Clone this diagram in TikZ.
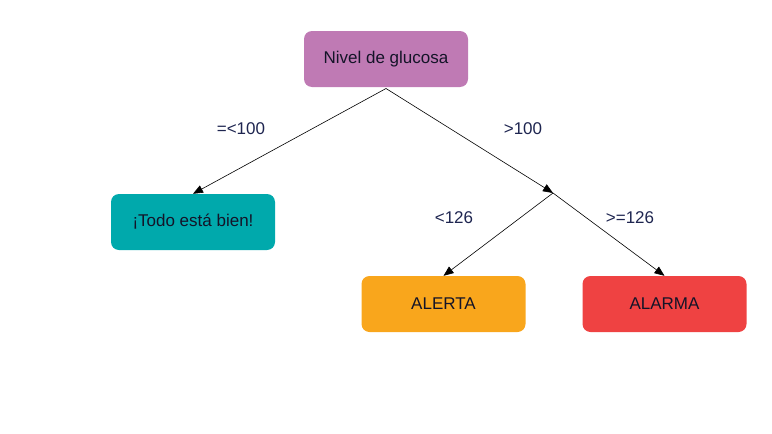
\documentclass[tikz,border=0pt]{standalone}
\usepackage{fontspec}
\setmainfont{Liberation Sans}
\usetikzlibrary{arrows.meta}
\definecolor{cpurple}{HTML}{BF7AB4}
\definecolor{cteal}{HTML}{00A9AC}
\definecolor{corange}{HTML}{F9A61C}
\definecolor{cred}{HTML}{EF4242}
\definecolor{ctext}{HTML}{141428}
\definecolor{clabel}{HTML}{1E2550}
\begin{document}
\begin{tikzpicture}[x=1pt,y=-1pt,
  box/.style={rounded corners=8pt, minimum width=164pt, minimum height=56pt, inner sep=0pt, text=ctext, font=\fontsize{17}{20}\selectfont},
  lbl/.style={text=clabel, font=\fontsize{17}{20}\selectfont, inner sep=0pt},
  conn/.style={draw=black, line width=0.6pt},
  arr/.style={conn, -{Triangle[length=10pt,width=8pt]}}]
\useasboundingbox (0,0) rectangle (772,434);
\node[box, fill=cpurple] (root) at (386,59) {Nivel de glucosa};
\node[box, fill=cteal] (ok) at (193,222) {¡Todo está bien!};
\node[box, fill=corange] (alerta) at (443.5,304) {ALERTA};
\node[box, fill=cred] (alarma) at (664.5,304) {ALARMA};
\coordinate (top) at (386,88.5);
\coordinate (split) at (553,193);
\draw[arr] (top) -- (ok.north);
\draw[arr] (top) -- (split);
\draw[arr] (split) -- (alerta.north);
\draw[arr] (split) -- (alarma.north);
\node[lbl] (l1) at (241,129) {=<100};
\node[lbl] (l2) at (523,129) {>100};
\node[lbl] (l3) at (454,218) {<126};
\node[lbl] (l4) at (630,218) {>=126};
\end{tikzpicture}
\end{document}
